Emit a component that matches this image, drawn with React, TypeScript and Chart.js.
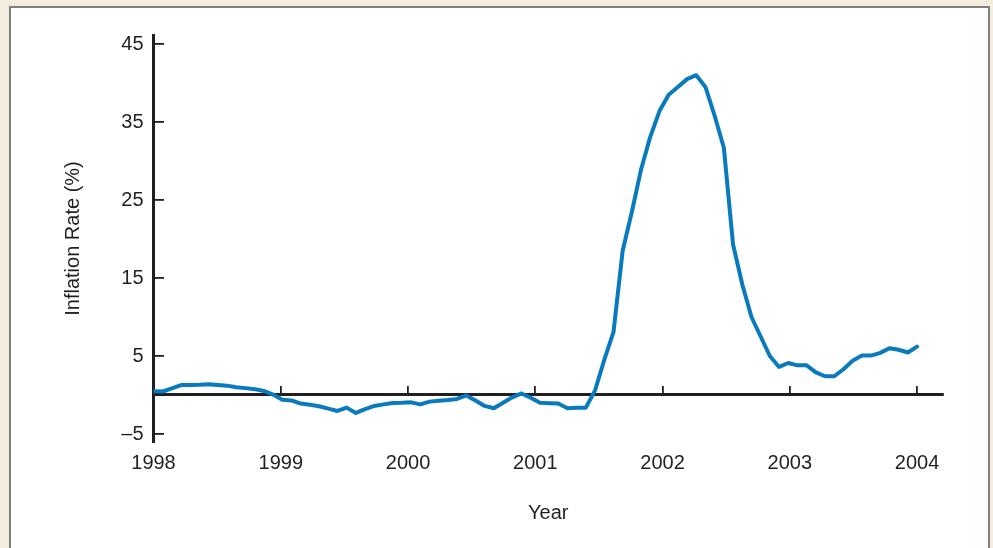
import React, { useEffect, useRef } from 'react';
import { Chart, registerables } from 'chart.js';

Chart.register(...registerables);

// Year tick labels on the x axis, and the year marks on the zero line
const yearTicks = [1998, 1999, 2000, 2001, 2002, 2003, 2004];
const zeroLineTicks = [1999, 2000, 2001, 2002, 2003, 2004];
// Y tick values (0 is drawn as the horizontal zero line, not labelled)
const yTickValues = [-5, 5, 15, 25, 35, 45];

// Observations are evenly spaced from the start of 1998 to the start of 2004
const seriesStart = 1998;
const seriesEnd = 2004;

// Inflation rate (%)
const inflationRate = [
  0.47, 0.45, 0.85, 1.27, 1.28, 1.3, 1.37, 1.28, 1.2, 1.0, 0.88, 0.75,
  0.52, 0.05, -0.6, -0.7, -1.1, -1.25, -1.45, -1.75, -2.05, -1.62, -2.3, -1.8,
  -1.4, -1.2, -1.03, -1.0, -0.94, -1.2, -0.85, -0.75, -0.65, -0.5, -0.05, -0.7,
  -1.4, -1.7, -1.0, -0.3, 0.2, -0.35, -1.0, -1.05, -1.1, -1.7, -1.65, -1.62,
  0.6, 4.5, 8.05, 18.5, 23.5, 28.9, 33.1, 36.4, 38.5, 39.5, 40.5, 41.0,
  39.5, 35.8, 31.7, 19.3, 14.2, 10.0, 7.5, 5.0, 3.6, 4.1, 3.8, 3.8,
  2.9, 2.4, 2.4, 3.3, 4.4, 5.05, 5.05, 5.4, 6.0, 5.8, 5.45, 6.2,
];

const X_MIN = 1998;
const X_MAX = 2004.204;
const Y_MIN = -6.026;
const Y_MAX = 46.154;

export default function App() {
  const ref = useRef<HTMLCanvasElement>(null);

  useEffect(() => {
    const canvas = ref.current;
    if (!canvas) return;
    const step = (seriesEnd - seriesStart) / (inflationRate.length - 1);
    const points = inflationRate.map((v, i) => ({ x: seriesStart + i * step, y: v }));
    const font = { family: "'Liberation Sans', Arial, Helvetica, sans-serif", size: 20 };
    const ink = '#231f20';
    const setTicks = (vals: number[]) => (scale: any) => {
      scale.ticks = vals.map((v) => ({ value: v }));
    };

    const chart = new Chart(canvas, {
      type: 'line',
      data: {
        datasets: [
          {
            data: points,
            borderColor: '#0a7abf',
            borderWidth: 4,
            pointRadius: 0,
            tension: 0,
            borderJoinStyle: 'round',
            borderCapStyle: 'round',
            xAxisID: 'x',
            yAxisID: 'y',
          } as any,
        ],
      },
      options: {
        animation: false,
        responsive: false,
        devicePixelRatio: 1,
        events: [],
        layout: { padding: { left: 0, top: 35, right: 50, bottom: 0 } },
        plugins: { legend: { display: false }, tooltip: { enabled: false } },
        scales: {
          x: {
            type: 'linear',
            position: 'bottom',
            min: X_MIN,
            max: X_MAX,
            afterBuildTicks: setTicks(yearTicks),
            afterFit: (s: any) => {
              s.height = 106;
            },
            grid: { display: false, drawTicks: false },
            border: { display: false },
            ticks: {
              font,
              color: ink,
              padding: 9,
              maxRotation: 0,
              autoSkip: false,
              callback: (v: any) => String(v),
            },
            title: { display: true, text: 'Year', font, color: ink, padding: { top: 0, bottom: 23 } },
          },
          xZero: {
            axis: 'x',
            type: 'linear',
            position: { y: 0 },
            min: X_MIN,
            max: X_MAX,
            afterBuildTicks: setTicks(zeroLineTicks),
            grid: {
              display: true,
              drawOnChartArea: false,
              drawTicks: true,
              tickLength: -10,
              color: ink,
              lineWidth: 1.8,
            },
            border: { display: true, color: ink, width: 3 },
            ticks: { display: false },
          },
          y: {
            type: 'linear',
            position: 'left',
            min: Y_MIN,
            max: Y_MAX,
            afterBuildTicks: setTicks(yTickValues),
            afterFit: (s: any) => {
              s.width = 153.5;
            },
            grid: { display: false, drawTicks: false },
            border: { display: true, color: ink, width: 3 },
            ticks: {
              font,
              color: ink,
              padding: 10,
              autoSkip: false,
              callback: (v: any) => (v < 0 ? '\u2013' + Math.abs(v) : String(v)),
            },
            title: {
              display: true,
              text: 'Inflation Rate (%)',
              font,
              color: ink,
              padding: { top: 61, bottom: 0 },
            },
          },
          yTicks: {
            axis: 'y',
            type: 'linear',
            position: { x: X_MIN },
            min: Y_MIN,
            max: Y_MAX,
            afterBuildTicks: setTicks(yTickValues),
            grid: {
              display: true,
              drawOnChartArea: false,
              drawTicks: true,
              tickLength: -10,
              color: ink,
              lineWidth: 1.8,
            },
            border: { display: false },
            ticks: { display: false },
          },
        } as any,
      },
    });

    return () => chart.destroy();
  }, []);

  return (
    <div
      style={{
        position: 'fixed',
        left: 0,
        top: 0,
        width: 993,
        height: 548,
        background: '#f4eddf',
        overflow: 'hidden',
      }}
    >
      <div
        style={{
          position: 'absolute',
          left: 9,
          top: 6,
          width: 981,
          height: 600,
          background: '#ffffff',
          border: '2px solid #7f7f7b',
          boxSizing: 'border-box',
        }}
      />
      <canvas
        ref={ref}
        width={993}
        height={548}
        style={{ position: 'absolute', left: 0, top: 0, width: 993, height: 548, display: 'block' }}
      />
    </div>
  );
}
